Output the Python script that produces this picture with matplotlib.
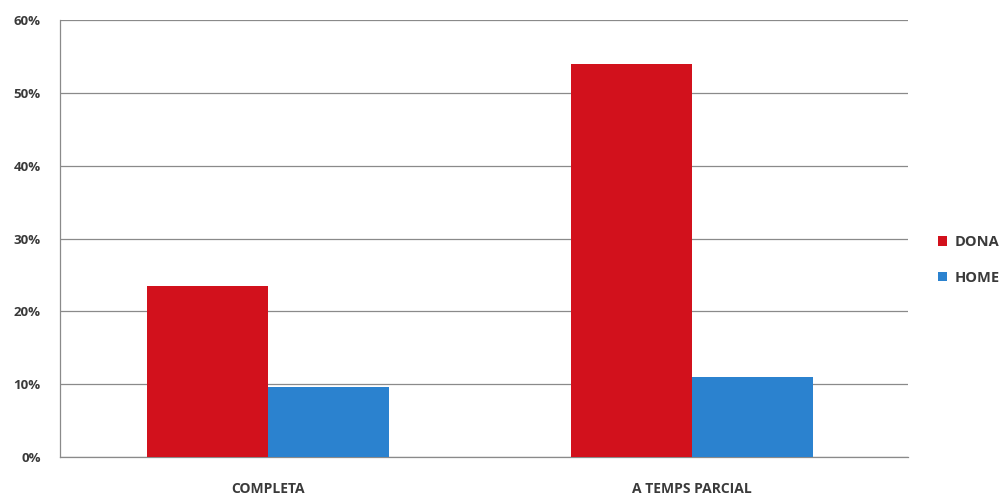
import numpy as np
import matplotlib
matplotlib.use("Agg")
import matplotlib.pyplot as plt
from matplotlib.ticker import PercentFormatter

categories = ["COMPLETA", "A TEMPS PARCIAL"]
dona = [23.5, 54.0]
home = [9.6, 11.0]
series_names = ["DONA", "HOME"]

red = "#d2111c"
blue = "#2b82cf"
text_col = "#3a3a3a"

plt.rcParams['font.family'] = ['Open Sans', 'DejaVu Sans']

fig = plt.figure(figsize=(10.01, 4.96), dpi=100)
ax = fig.add_axes([60 / 1001, 1 - 457 / 496, 848 / 1001, 437 / 496])

x = np.arange(len(categories))
w = 0.285
ax.bar(x - w / 2, dona, w, color=red, label=series_names[0], zorder=3)
ax.bar(x + w / 2, home, w, color=blue, label=series_names[1], zorder=3)

ax.set_xlim(-0.49, 1.51)
ax.set_ylim(0, 60)
ax.set_yticks(np.arange(0, 61, 10))
ax.yaxis.set_major_formatter(PercentFormatter(decimals=0))
ax.set_xticks(x)
ax.set_xticklabels(categories)
ax.grid(axis="y", color="#8a8a8a", linewidth=0.9, zorder=0)
ax.tick_params(axis="y", length=0, labelsize=9.5, pad=14)
ax.tick_params(axis="x", length=0, labelsize=10, pad=18)
for lab in ax.get_xticklabels() + ax.get_yticklabels():
    lab.set_fontweight("bold")
    lab.set_color(text_col)

for s in ["top", "right"]:
    ax.spines[s].set_visible(False)
for s in ["left", "bottom"]:
    ax.spines[s].set_color("#8a8a8a")
    ax.spines[s].set_linewidth(0.9)

leg = fig.legend(loc="center left", bbox_to_anchor=(925 / 1001, 1 - 260 / 496),
                 frameon=False, handlelength=0.6, handleheight=0.6,
                 handletextpad=0.5, labelspacing=1.5,
                 prop={"size": 10.5, "weight": "bold"})
for t in leg.get_texts():
    t.set_color(text_col)

fig.savefig("out.png", dpi=100)
